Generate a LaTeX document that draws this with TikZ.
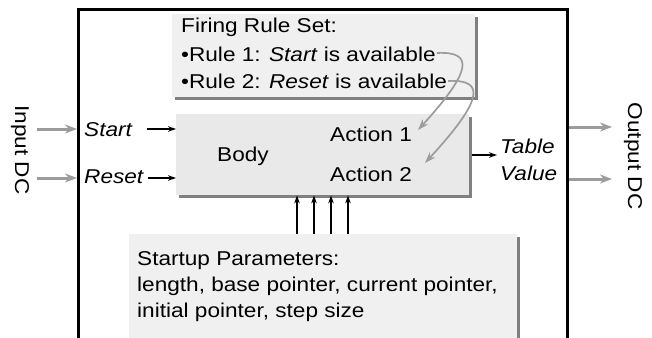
\documentclass[tikz,border=0pt]{standalone}
\usepackage{fontspec}
\setmainfont{Liberation Sans}[FakeStretch=1.13]
\usetikzlibrary{arrows.meta,shadows}

\definecolor{panelfill}{HTML}{F0F0F0}
\definecolor{bodyfill}{HTML}{E9E9E9}
\definecolor{shadowgray}{HTML}{808080}
\definecolor{flowgray}{HTML}{9C9C9C}

\begin{document}
\begin{tikzpicture}[x=1pt,y=-1pt,
  lbl/.style={font=\fontsize{20}{26}\selectfont, inner sep=0pt, anchor=base west},
  panel/.style={fill=panelfill, draw=none, inner sep=0pt, anchor=north west,
    general shadow={fill=shadowgray, shadow xshift=2.7pt, shadow yshift=-2.7pt}},
  frame/.style={line width=3pt, draw=black},
  flow/.style={draw=flowgray, line width=3pt, -{Stealth[length=12pt,width=9pt]}},
  ctl/.style={draw=black, line width=1.3pt, -{Stealth[length=8pt,width=5.5pt]}},
  fire/.style={draw=flowgray, line width=1.7pt, -{Stealth[length=11pt,width=7.5pt]}},
  vert/.style={font=\fontsize{20}{26}\selectfont, inner sep=0pt, rotate=-90}]

\useasboundingbox (0,0) rectangle (652,337);

% actor frame, open at the bottom
\draw[frame] (78,350) -- (78,10) -- (567,10) -- (567,350);

% panels
\node[panel, minimum width=303pt, minimum height=83pt] (rules) at (172,14) {};
\node[panel, fill=bodyfill, minimum width=293pt, minimum height=81pt] (body) at (176,114) {};
\node[panel, minimum width=388pt, minimum height=115pt] (params) at (129,234) {};

% firing rules
\node[lbl] (rtitle) at (181,33) {Firing Rule Set:};
\node[lbl] (rule1) at (181,61) {•Rule 1: \textit{Start} is available};
\node[lbl] (rule2) at (181,88) {•Rule 2: \textit{Reset} is available};

% body contents
\node[lbl] (bodytxt) at (217,161) {Body};
\node[lbl] (act1) at (330,141) {Action 1};
\node[lbl] (act2) at (330,181) {Action 2};

% ports
\node[lbl] (start) at (84,136) {\textit{Start}};
\node[lbl] (reset) at (84,183) {\textit{Reset}};
\node[lbl] (table) at (500,153) {\textit{Table}};
\node[lbl] (value) at (500,180) {\textit{Value}};

% startup parameters
\node[lbl] (ptitle) at (137,265) {Startup Parameters:};
\node[lbl] (plist1) at (137,291) {length, base pointer, current pointer,};
\node[lbl] (plist2) at (137,317) {initial pointer, step size};

% channel labels
\node[vert] (indc) at (20,150) {Input DC};
\node[vert] (outdc) at (633,156) {Output DC};

% connector ends
\coordinate (inA) at (37,129);   \coordinate (inAend) at (77,129);
\coordinate (inB) at (37,178);   \coordinate (inBend) at (77,178);
\coordinate (outA) at (569,127); \coordinate (outAend) at (612,127);
\coordinate (outB) at (569,179); \coordinate (outBend) at (612,179);
\coordinate (startTail) at (147,129);
\coordinate (resetTail) at (148,178);
\coordinate (tvTail) at (472,155); \coordinate (tvHead) at (497,155);
\coordinate (r1end) at (rule1.base east) ; 
\coordinate (a1tip) at (418,130);
\coordinate (r2end) at (rule2.base east);
\coordinate (a2tip) at (425,163);

% data channels
\draw[flow] (inA) -- (inAend);
\draw[flow] (inB) -- (inBend);
\draw[flow] (outA) -- (outAend);
\draw[flow] (outB) -- (outBend);

% control inputs
\draw[ctl] (startTail) -- (startTail -| body.west);
\draw[ctl] (resetTail) -- (resetTail -| body.west);
\draw[ctl] (tvTail) -- (tvHead);

% parameters into the body
\foreach \px in {297,314,331,348}
  \draw[ctl] (params.north -| \px,0) -- (body.south -| \px,0);

% rules fire actions, leaving each rule line just after its text
\draw[fire] ([shift={(1,-8)}]r1end) .. controls ([shift={(40,-10)}]r1end) and ([shift={(34,12)}]r1end) .. (a1tip);
\draw[fire] ([shift={(1,-7)}]r2end) .. controls ([shift={(40,-9)}]r2end) and ([shift={(34,14)}]r2end) .. (a2tip);

\end{tikzpicture}
\end{document}
